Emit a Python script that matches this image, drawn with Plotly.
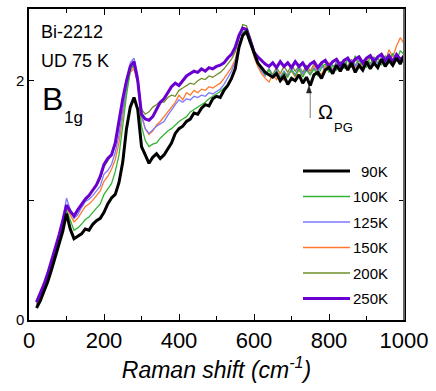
import plotly.graph_objects as go

raman_shift = [20, 30, 40, 50, 60, 70, 80, 90, 100, 110, 120, 130, 140, 150, 160, 170, 180, 190, 200,
               210, 220, 230, 240, 250, 260, 270, 280, 290, 300, 310, 320, 330, 340, 350, 360, 370, 380,
               390, 400, 410, 420, 430, 440, 450, 460, 470, 480, 490, 500, 510, 520, 530, 540, 550, 560,
               570, 580, 590, 600, 610, 620, 630, 640, 650, 660, 670, 680, 690, 700, 710, 720, 730, 740,
               750, 760, 770, 780, 790, 800, 810, 820, 830, 840, 850, 860, 870, 880, 890, 900, 910, 920,
               930, 940, 950, 960, 970, 980, 990, 1000]

t90K = [0.10, 0.16, 0.24, 0.32, 0.42, 0.52, 0.63, 0.74, 0.89, 0.76, 0.68, 0.70, 0.72, 0.76, 0.75, 0.80, 0.83, 0.85, 0.90,
        0.97, 1.02, 1.05, 1.15, 1.32, 1.60, 1.78, 1.86, 1.76, 1.45, 1.38, 1.31, 1.36, 1.39, 1.35, 1.38, 1.43, 1.48,
        1.56, 1.60, 1.62, 1.66, 1.68, 1.73, 1.72, 1.77, 1.80, 1.79, 1.85, 1.87, 1.86, 1.92, 1.96, 2.02, 2.10, 2.28,
        2.38, 2.41, 2.32, 2.24, 2.15, 2.11, 2.07, 2.05, 2.03, 2.06, 2.00, 2.04, 1.97, 2.02, 2.00, 2.05, 1.98, 2.03,
        1.96, 2.05, 2.07, 2.02, 2.09, 2.11, 2.06, 2.13, 2.08, 2.14, 2.09, 2.15, 2.07, 2.13, 2.09, 2.16, 2.10, 2.15,
        2.11, 2.18, 2.12, 2.17, 2.13, 2.19, 2.14, 2.21]

t100K = [0.12, 0.18, 0.26, 0.34, 0.44, 0.55, 0.67, 0.79, 0.92, 0.84, 0.75, 0.77, 0.80, 0.84, 0.86, 0.90, 0.94, 0.97, 1.05,
         1.10, 1.14, 1.24, 1.38, 1.62, 1.88, 2.08, 2.14, 1.98, 1.62, 1.50, 1.45, 1.47, 1.48, 1.52, 1.55, 1.58, 1.60,
         1.63, 1.66, 1.68, 1.70, 1.74, 1.76, 1.78, 1.80, 1.82, 1.85, 1.87, 1.89, 1.91, 1.94, 1.97, 2.01, 2.10, 2.28,
         2.40, 2.44, 2.36, 2.22, 2.14, 2.10, 2.05, 2.09, 2.03, 2.08, 2.02, 2.07, 2.03, 2.09, 2.04, 2.10, 2.03, 2.09,
         2.05, 2.10, 2.04, 2.11, 2.14, 2.07, 2.13, 2.09, 2.16, 2.10, 2.18, 2.11, 2.21, 2.12, 2.17, 2.11, 2.20, 2.14,
         2.19, 2.13, 2.21, 2.16, 2.23, 2.17, 2.25, 2.22]

t125K = [0.14, 0.21, 0.29, 0.38, 0.48, 0.59, 0.71, 0.84, 1.02, 0.92, 0.85, 0.88, 0.94, 0.99, 1.01, 1.04, 1.08, 1.12, 1.22,
         1.25, 1.30, 1.40, 1.55, 1.75, 1.98, 2.15, 2.19, 2.05, 1.72, 1.60, 1.56, 1.59, 1.62, 1.64, 1.66, 1.71, 1.76,
         1.80, 1.84, 1.82, 1.85, 1.84, 1.87, 1.86, 1.88, 1.87, 1.90, 1.89, 1.91, 1.93, 1.97, 2.02, 2.08, 2.16, 2.30,
         2.40, 2.42, 2.34, 2.22, 2.14, 2.08, 2.04, 2.10, 2.04, 2.09, 2.03, 2.08, 2.04, 2.10, 2.05, 2.11, 2.06, 2.10,
         2.05, 2.11, 2.07, 2.13, 2.08, 2.13, 2.09, 2.15, 2.10, 2.16, 2.11, 2.17, 2.12, 2.18, 2.13, 2.17, 2.12, 2.19,
         2.14, 2.20, 2.15, 2.19, 2.14, 2.21, 2.17, 2.21]

t150K = [0.13, 0.20, 0.28, 0.37, 0.47, 0.58, 0.69, 0.81, 0.94, 0.88, 0.82, 0.85, 0.90, 0.95, 0.97, 1.00, 1.04, 1.08, 1.16,
         1.20, 1.26, 1.34, 1.48, 1.70, 1.92, 2.07, 2.10, 1.98, 1.70, 1.60, 1.55, 1.58, 1.63, 1.66, 1.70, 1.74, 1.79,
         1.82, 1.88, 1.84, 1.90, 1.88, 1.92, 1.90, 1.93, 1.92, 1.95, 1.94, 1.96, 1.98, 2.02, 2.07, 2.11, 2.18, 2.30,
         2.38, 2.41, 2.32, 2.20, 2.12, 2.06, 2.02, 1.99, 2.05, 2.01, 2.07, 2.00, 2.06, 2.08, 2.03, 2.09, 2.04, 2.11,
         2.06, 2.13, 2.08, 2.05, 2.12, 2.15, 2.09, 2.14, 2.08, 2.15, 2.10, 2.17, 2.11, 2.19, 2.12, 2.17, 2.21, 2.13,
         2.19, 2.23, 2.16, 2.26, 2.20, 2.29, 2.36, 2.31]

t200K = [0.14, 0.21, 0.29, 0.38, 0.48, 0.59, 0.70, 0.82, 0.95, 0.90, 0.86, 0.91, 0.97, 1.02, 1.05, 1.08, 1.12, 1.18, 1.28,
         1.33, 1.38, 1.46, 1.62, 1.82, 1.98, 2.10, 2.12, 2.02, 1.76, 1.72, 1.74, 1.78, 1.80, 1.83, 1.82, 1.86, 1.88,
         1.87, 1.92, 1.94, 1.96, 1.98, 1.97, 2.00, 2.02, 2.01, 2.04, 2.03, 2.05, 2.07, 2.10, 2.14, 2.18, 2.24, 2.36,
         2.47, 2.46, 2.36, 2.24, 2.16, 2.10, 2.06, 2.10, 2.05, 2.11, 2.06, 2.12, 2.07, 2.13, 2.08, 2.12, 2.07, 2.13,
         2.08, 2.14, 2.09, 2.15, 2.10, 2.14, 2.09, 2.16, 2.11, 2.17, 2.12, 2.18, 2.13, 2.17, 2.12, 2.19, 2.14, 2.20,
         2.15, 2.19, 2.14, 2.20, 2.16, 2.22, 2.17, 2.20]

t250K = [0.15, 0.22, 0.30, 0.39, 0.49, 0.60, 0.71, 0.83, 0.96, 0.91, 0.87, 0.92, 0.97, 1.01, 1.04, 1.08, 1.13, 1.20, 1.30,
         1.35, 1.38, 1.48, 1.68, 1.85, 2.00, 2.12, 2.16, 2.00, 1.72, 1.68, 1.67, 1.70, 1.76, 1.82, 1.85, 1.90, 1.95,
         1.98, 1.96, 2.00, 2.04, 2.06, 2.08, 2.07, 2.10, 2.08, 2.11, 2.10, 2.12, 2.13, 2.15, 2.19, 2.22, 2.28, 2.38,
         2.44, 2.43, 2.34, 2.24, 2.20, 2.17, 2.14, 2.12, 2.15, 2.11, 2.16, 2.12, 2.15, 2.11, 2.16, 2.12, 2.15, 2.10,
         2.14, 2.16, 2.11, 2.15, 2.17, 2.12, 2.16, 2.18, 2.13, 2.17, 2.19, 2.14, 2.18, 2.20, 2.15, 2.19, 2.21, 2.16,
         2.20, 2.22, 2.17, 2.21, 2.16, 2.22, 2.18, 2.20]

labels = ["90K", "100K", "125K", "150K", "200K", "250K"]
series = [t90K, t100K, t125K, t150K, t200K, t250K]
colors = ["#000000", "#33b533", "#7b78ff", "#ff7a2e", "#6f8f28", "#6a00d0"]
widths = [3, 1.3, 1.3, 1.3, 1.3, 3]

x_ticks = [0, 200, 400, 600, 800, 1000]
x_minor = [100, 300, 500, 700, 900]
y_ticks = [0, 2]
y_minor = [1]

FONT = "Liberation Sans, Arial, sans-serif"

fig = go.Figure()
draw_order = [4, 3, 2, 1, 5, 0]
for i in draw_order:
    fig.add_trace(go.Scatter(x=raman_shift, y=series[i], mode="lines", name=labels[i],
                             line=dict(color=colors[i], width=widths[i]), showlegend=False))

W, H = 436, 391
L, R, T, B = 29, 32, 9, 71
pw, ph = W - L - R, H - T - B

def px(x):
    return (x - L) / pw

def py(y):
    return 1 - (y - T) / ph

shapes = []
annotations = []

# manual legend
leg_rows = [171, 196.5, 222, 247.5, 273, 298.5]
for lab, col, wd, yy in zip(labels, colors, widths, leg_rows):
    shapes.append(dict(type="line", xref="paper", yref="paper", x0=px(303), x1=px(350),
                       y0=py(yy), y1=py(yy), line=dict(color=col, width=wd)))
    annotations.append(dict(xref="paper", yref="paper", x=px(390), y=py(yy), text=lab,
                            showarrow=False, xanchor="right", yanchor="middle",
                            font=dict(size=15, color="black", family=FONT)))

# right spine in grey
shapes.append(dict(type="line", xref="paper", yref="paper", x0=1, x1=1, y0=0, y1=1,
                   line=dict(color="#666666", width=2)))

# Omega_PG arrow (grey shaft, dark head)
shapes.append(dict(type="line", xref="x", yref="paper", x0=750, x1=750, y0=py(118), y1=py(91),
                   line=dict(color="#999999", width=1.3)))
shapes.append(dict(type="path", xref="paper", yref="paper",
                   path="M {} {} L {} {} L {} {} Z".format(px(306.5), py(93), px(309), py(85.5), px(311.5), py(93)),
                   fillcolor="#222222", line=dict(color="#222222", width=0.5)))

annotations += [
    dict(xref="paper", yref="paper", x=px(39), y=py(32), text="Bi-2212", showarrow=False,
         xanchor="left", yanchor="middle", font=dict(size=18, color="black", family=FONT)),
    dict(xref="paper", yref="paper", x=px(39), y=py(61), text="UD 75 K", showarrow=False,
         xanchor="left", yanchor="middle", font=dict(size=18, color="black", family=FONT)),
    dict(xref="paper", yref="paper", x=px(40), y=py(99), text="B", showarrow=False,
         xanchor="left", yanchor="middle", font=dict(size=32, color="black", family=FONT)),
    dict(xref="paper", yref="paper", x=px(62), y=py(117), text="1g", showarrow=False,
         xanchor="left", yanchor="middle", font=dict(size=17, color="black", family=FONT)),
    dict(xref="paper", yref="paper", x=px(316), y=py(112), text="Ω", showarrow=False,
         xanchor="left", yanchor="middle", font=dict(size=20, color="black", family=FONT)),
    dict(xref="paper", yref="paper", x=px(332), y=py(127), text="PG", showarrow=False,
         xanchor="left", yanchor="middle", font=dict(size=13, color="black", family=FONT)),
]

fig.update_layout(
    width=W, height=H,
    margin=dict(l=L, r=R, t=T, b=B, autoexpand=False),
    plot_bgcolor="white", paper_bgcolor="white",
    showlegend=False,
    shapes=shapes, annotations=annotations,
    font=dict(family=FONT, color="black"),
)
fig.update_xaxes(range=[0, 1000], tickvals=x_ticks, ticks="inside", ticklen=6, tickwidth=1.2,
                 tickcolor="black", showline=True, linecolor="black", linewidth=1.5, mirror="ticks",
                 showgrid=False, zeroline=False, automargin=False, tickfont=dict(size=22, family=FONT),
                 minor=dict(tickvals=x_minor, ticks="inside", ticklen=4,
                            tickcolor="black", tickwidth=1, showgrid=False),
                 title=dict(text="<i>Raman shift (cm<sup>-1</sup>)</i>", font=dict(size=23, family=FONT),
                            standoff=6))
fig.update_yaxes(range=[0, 2.6], tickvals=y_ticks, ticks="inside", ticklen=5,
                 tickwidth=1.2, tickcolor="black", showline=True, linecolor="black", linewidth=1.5,
                 mirror="ticks", showgrid=False, zeroline=False, automargin=False,
                 tickfont=dict(size=15, family=FONT),
                 minor=dict(tickvals=y_minor, ticks="inside", ticklen=5, tickcolor="black",
                            tickwidth=1.2, showgrid=False))

fig.write_html("out.html", config={"displayModeBar": False},
               post_script="document.body.style.margin='0';")
